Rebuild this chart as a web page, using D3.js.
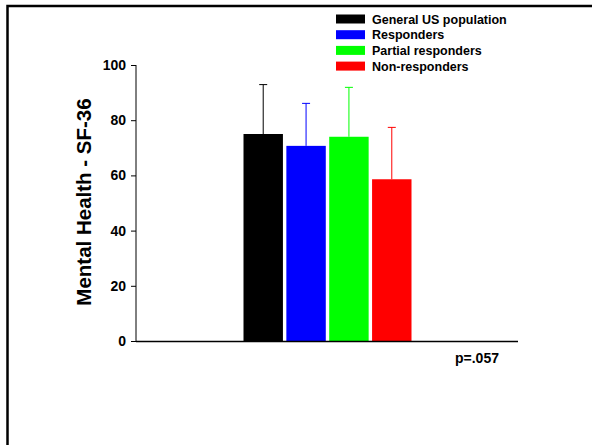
<!DOCTYPE html>
<html><head><meta charset="utf-8">
<script src="https://cdn.jsdelivr.net/npm/d3@7"></script>
<style>body{margin:0;background:#fff}svg{display:block}text{font-family:"Liberation Sans",Arial,sans-serif;font-weight:bold}</style>
</head><body>
<script>
const series = ["General US population","Responders","Partial responders","Non-responders"];
const means = [75, 70.7, 74, 58.6];
const errTops = [92.9, 86.1, 91.9, 77.4];
const colors = ["#000000","#0000ff","#00ff00","#ff0000"];
const yTicks = [0,20,40,60,80,100];
const yTitle = "Mental Health - SF-36";
const pText = "p=.057";

const W=592,H=445;
const svg=d3.select("body").append("svg").attr("width",W).attr("height",H);
// frame
svg.append("path").attr("d",`M7.5,${H} V6 H${W}`).attr("fill","none").attr("stroke","#000").attr("stroke-width",2.5);

const y=d3.scaleLinear().domain([0,100]).range([341,65]);
const xAxisRange=[136,518];
const x=d3.scaleBand().domain(series).range([243.5,411.5]).paddingInner(0.08).paddingOuter(0);

// bars
svg.selectAll("rect.bar").data(series).enter().append("rect")
 .attr("x",d=>x(d)).attr("width",x.bandwidth())
 .attr("y",(d,i)=>y(means[i])).attr("height",(d,i)=>y(0)-y(means[i]))
 .attr("fill",(d,i)=>colors[i]);
// error bars
const eb=svg.selectAll("g.eb").data(series).enter().append("g");
eb.append("line").attr("x1",d=>x(d)+x.bandwidth()/2).attr("x2",d=>x(d)+x.bandwidth()/2)
 .attr("y1",(d,i)=>y(means[i])).attr("y2",(d,i)=>y(errTops[i]))
 .attr("stroke",(d,i)=>colors[i]).attr("stroke-width",1);
eb.append("line").attr("x1",d=>x(d)+x.bandwidth()/2-4).attr("x2",d=>x(d)+x.bandwidth()/2+4)
 .attr("y1",(d,i)=>y(errTops[i])).attr("y2",(d,i)=>y(errTops[i]))
 .attr("stroke",(d,i)=>colors[i]).attr("stroke-width",1);

// y axis
const ya=svg.append("g").attr("transform","translate(136,0)")
 .call(d3.axisLeft(y).tickValues(yTicks).tickSize(5).tickPadding(5));
ya.select(".domain").attr("d",`M0,${y(100)}V${y(0)}`).attr("stroke","#000");
ya.selectAll("text").attr("font-size",14).attr("font-family","Liberation Sans, Arial").attr("font-weight","bold").attr("fill","#000");
// x axis line
svg.append("line").attr("x1",xAxisRange[0]).attr("x2",xAxisRange[1]).attr("y1",y(0)+0.5).attr("y2",y(0)+0.5).attr("stroke","#000").attr("stroke-width",1.5);

// y title
svg.append("text").attr("transform",`translate(91,202) rotate(-90)`).attr("text-anchor","middle")
 .attr("font-size",20.5).text(yTitle);

// p value
svg.append("text").attr("x",455).attr("y",363).attr("font-size",14).text(pText);

// legend
const lg=svg.selectAll("g.lg").data(series).enter().append("g").attr("transform",(d,i)=>`translate(336,${14.5+i*15.7})`);
lg.append("rect").attr("width",29).attr("height",9).attr("fill",(d,i)=>colors[i]);
lg.append("text").attr("x",36).attr("y",9).attr("font-size",12.5).text(d=>d);
</script>
</body></html>
